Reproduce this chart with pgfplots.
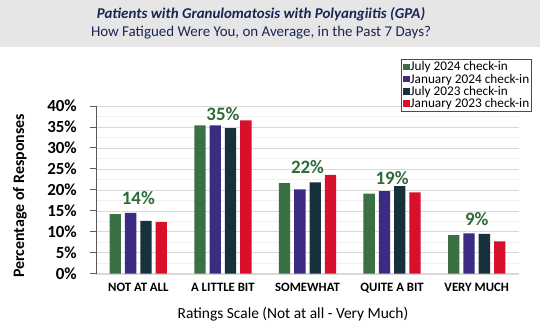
\documentclass[border=0pt]{standalone}
\usepackage{fontspec}
\setmainfont{Carlito}
\usepackage{pgfplots}
\pgfplotsset{compat=1.18}
\definecolor{cgreen}{HTML}{3A7044}
\definecolor{cpurple}{HTML}{3B2B82}
\definecolor{cdark}{HTML}{16303C}
\definecolor{cred}{HTML}{D9102B}
\definecolor{lgreen}{HTML}{2F6B3A}
\definecolor{navy}{HTML}{1A2456}
\definecolor{header}{HTML}{E6E6E6}
\begin{document}
\begin{tikzpicture}[x=1bp,y=1bp]
\useasboundingbox (0,0) rectangle (540,331);
\fill[white] (0,0) rectangle (540,331);
\fill[header] (0,284.3) rectangle (540,331);
\node[font=\fontsize{15}{18}\selectfont\bfseries\itshape, text=navy] at (261,317) {Patients with Granulomatosis with Polyangiitis (GPA)};
\node[font=\fontsize{15}{18}\selectfont, text=navy] at (261,298) {How Fatigued Were You, on Average, in the Past 7 Days?};
\begin{axis}[
  at={(96bp,57.3bp)}, anchor=south west,
  scale only axis, width=423bp, height=167.7bp,
  xmin=-0.5, xmax=4.5, ymin=0, ymax=40,
  axis y line*=left, axis x line*=bottom,
  y axis line style={draw=black!65, line width=0.9pt},
  x axis line style={draw=black!15},
  xtick={0,1,2,3,4},
  xticklabels={NOT AT ALL, A LITTLE BIT, SOMEWHAT, QUITE A BIT, VERY MUCH},
  xtick style={draw=none},
  xticklabel style={font=\fontsize{12.8}{14}\selectfont\bfseries},
  ytick={0,5,...,40},
  yticklabel={\pgfmathprintnumber{\tick}\%},
  /pgf/number format/assume math mode=true,
  yticklabel style={font=\fontsize{17}{19}\selectfont\bfseries, inner sep=0pt, anchor=east, xshift=-13bp},
  ytick style={draw=black!65, line width=0.9pt},
  tick align=outside, major tick length=6bp,
  ymajorgrids, major grid style={draw=black!15, line width=0.6pt},
  minor y tick num=1, yminorgrids, minor grid style={draw=black!6, line width=0.5pt},
  minor tick length=0pt,
  bar width=0.1336,
  legend style={at={(axis description cs:1.030,1.280)}, anchor=north east,
    draw=black!70, fill=white, font=\fontsize{13.3}{14}\selectfont,
    inner sep=1.5pt, row sep=0pt, nodes={inner sep=0.8pt}},
  legend cell align=left,
  legend image code/.code={\fill[#1] (0bp,-3.3bp) rectangle (7bp,3.3bp);},
]
\addplot[ybar, bar shift=-0.2715, fill=cgreen, draw=none] coordinates {(0,14.2) (1,35.4) (2,21.6) (3,19.1) (4,9.2)};
\addlegendentry{July 2024 check-in}
\addplot[ybar, bar shift=-0.0905, fill=cpurple, draw=none] coordinates {(0,14.5) (1,35.4) (2,20.1) (3,19.7) (4,9.6)};
\addlegendentry{January 2024 check-in}
\addplot[ybar, bar shift=0.0905, fill=cdark, draw=none] coordinates {(0,12.6) (1,34.7) (2,21.8) (3,20.9) (4,9.5)};
\addlegendentry{July 2023 check-in}
\addplot[ybar, bar shift=0.2715, fill=cred, draw=none] coordinates {(0,12.3) (1,36.6) (2,23.6) (3,19.4) (4,7.7)};
\addlegendentry{January 2023 check-in}
\addplot[ybar, bar shift=-0.2715, draw=none, fill=none, forget plot,
  nodes near coords, point meta=explicit symbolic,
  every node near coord/.append style={anchor=center, text=lgreen, font=\fontsize{19}{21}\selectfont\bfseries}]
  coordinates {(0,18.0) [14\%] (1,38.1) [35\%] (2,25.4) [22\%] (3,22.9) [19\%] (4,13.05) [9\%]};
\end{axis}
\node[font=\fontsize{16}{18}\selectfont\bfseries, rotate=90] at (20,135) {Percentage of Responses};
\node[font=\fontsize{15.5}{18}\selectfont] at (293,16.7) {Ratings Scale (Not at all - Very Much)};
\end{tikzpicture}
\end{document}
